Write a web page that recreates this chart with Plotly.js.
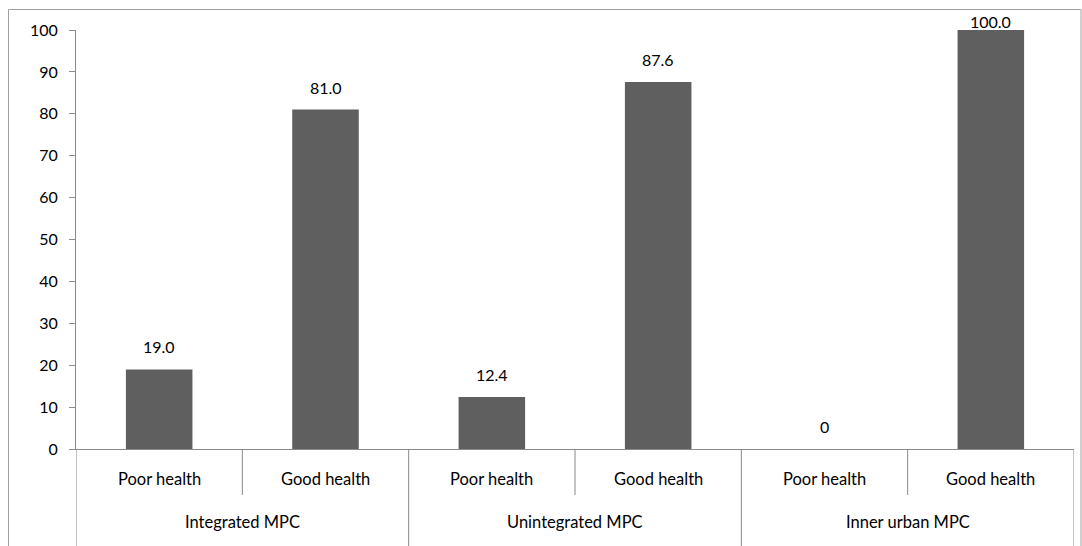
<!DOCTYPE html>
<html><head><meta charset="utf-8">
<script src="https://cdn.plot.ly/plotly-3.0.1.min.js"></script>
<style>html,body{margin:0;padding:0;background:#fff}#chart{width:1082px;height:546px}</style>
</head><body><div id="chart"></div>
<script>
const groupNames = ["Integrated MPC", "Unintegrated MPC", "Inner urban MPC"];
const groups = ["Integrated MPC","Integrated MPC","Unintegrated MPC","Unintegrated MPC","Inner urban MPC","Inner urban MPC"];
const categories = ["Poor health","Good health","Poor health","Good health","Poor health","Good health"];
const values = [19.0, 81.0, 12.4, 87.6, 0, 100.0];
const yTicks = [0,10,20,30,40,50,60,70,80,90,100];

const labels = values.map(v => v === 0 ? "0" : v.toFixed(1));
const family = "Lato, 'Open Sans', sans-serif";
const numFont = {family: family, size: 16, color: "#000"};
const catFont = {family: family, size: 16.5, color: "#000"};

const W = 1082, H = 546, L = 76, R = 8, T = 30, B = 97;
const pw = W - L - R, ph = H - T - B;
const px = x => (x - L) / pw, py = y => (H - B - y) / ph;

const idx = categories.map((c, i) => i);
const lineCol = "#8a8a8a";

const shapes = [
  {type: "rect", xref: "paper", yref: "paper", x0: px(8.5), x1: px(1081), y0: py(560), y1: py(9.5),
   line: {color: "#a0a0a0", width: 1}, fillcolor: "rgba(0,0,0,0)", layer: "below"}
];
// category boundaries
for (let i = 0; i <= categories.length; i++) {
  const isGroupEdge = i === 0 || i === categories.length || groups[i] !== groups[i - 1];
  shapes.push({type: "line", xref: "x", yref: "paper", x0: i - 0.5, x1: i - 0.5,
    y0: 0, y1: isGroupEdge ? py(560) : py(495), line: {color: lineCol, width: 1}});
}

const annotations = [];
categories.forEach((c, i) => {
  annotations.push({xref: "x", yref: "paper", x: i, y: py(479), text: c, showarrow: false,
    font: catFont, xanchor: "center", yanchor: "middle"});
  annotations.push({xref: "x", yref: "y", x: i, y: values[i], text: labels[i], showarrow: false,
    font: numFont, xanchor: "center", yanchor: "bottom", yshift: values[i] >= 100 ? -3 : 11});
});
groupNames.forEach(g => {
  const members = idx.filter(i => groups[i] === g);
  const mid = members.reduce((a, b) => a + b, 0) / members.length;
  annotations.push({xref: "x", yref: "paper", x: mid, y: py(522), text: g, showarrow: false,
    font: catFont, xanchor: "center", yanchor: "middle"});
});

const traces = [
  {type: "bar", x: idx, y: values, marker: {color: "#5f5f5f"}, hoverinfo: "skip", showlegend: false}
];

const layout = {
  width: W, height: H,
  margin: {l: L, r: R, t: T, b: B},
  paper_bgcolor: "#fff", plot_bgcolor: "#fff",
  font: numFont,
  showlegend: false,
  bargap: 0.6,
  xaxis: {type: "linear", range: [-0.5, categories.length - 0.5], showline: true, linecolor: lineCol,
          linewidth: 1, ticks: "", showticklabels: false, showgrid: false, zeroline: false, fixedrange: true},
  yaxis: {range: [0, 100], tickvals: yTicks, ticks: "outside", ticklen: 6, tickcolor: lineCol,
          showline: true, linecolor: lineCol, linewidth: 1, showgrid: false, zeroline: false,
          tickfont: numFont, ticklabelstandoff: 8},
  shapes: shapes,
  annotations: annotations
};
Plotly.newPlot("chart", traces, layout, {staticPlot: true});
</script></body></html>
